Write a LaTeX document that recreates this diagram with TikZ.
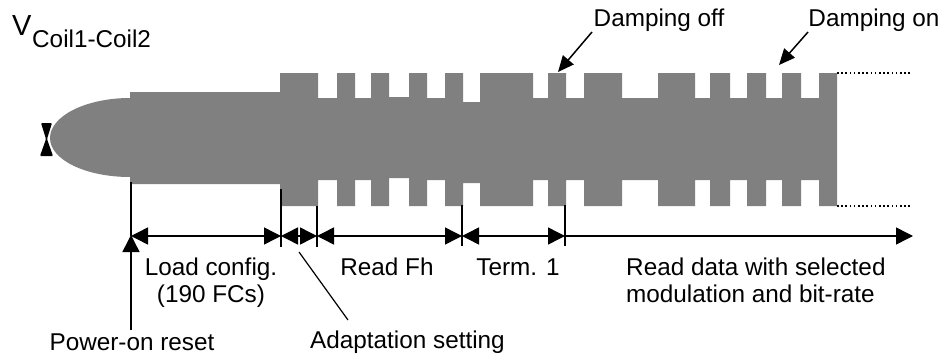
\documentclass[tikz,border=0pt]{standalone}
\usepackage{fontspec}
\setmainfont{Liberation Sans}
\usetikzlibrary{arrows.meta}
\definecolor{wave}{gray}{0.5}
\tikzset{
  x=1pt,y=-1pt,
  lab/.style={inner sep=0pt,font=\fontsize{24.3}{27}\selectfont,text=black},
  tick/.style={line width=1.5pt,black},
  dim/.style={line width=1.5pt,{Triangle[length=17pt,width=17pt]}-{Triangle[length=17pt,width=17pt]}},
  onearrow/.style={line width=1.5pt,-{Triangle[length=17pt,width=17pt]}},
  callout/.style={line width=1.5pt,-{Triangle[length=16pt,width=14pt]}},
  dotline/.style={line width=1.5pt,dash pattern=on 1.5pt off 2.7pt}
}
\begin{document}
\begin{tikzpicture}
\useasboundingbox (0,0) rectangle (948,356);
% bow tie
\fill[black,rounded corners=1pt] (41,123) -- (52,123) -- (47,139) -- (53,156) -- (40,156) -- (46,139) -- cycle;
% envelope
\fill[wave] (50,138) .. controls (50,116) and (86,98) .. (130,98) -- (130,92) -- (280,92) -- (280,73) -- (318,73) -- (318,98)
 -- (337,98) -- (337,73) -- (355,73) -- (355,98) -- (371,98) -- (371,73) -- (389,73) -- (389,97) -- (409,97) -- (409,73) -- (427,73)
 -- (427,98) -- (445,98) -- (445,73) -- (463,73) -- (463,102) -- (480,102) -- (480,73) -- (533,73) -- (533,98) -- (548,98) -- (548,73)
 -- (566,73) -- (566,98) -- (584,98) -- (584,73) -- (622,73) -- (622,98) -- (658,98) -- (658,73) -- (695,73) -- (695,98) -- (710,98)
 -- (710,73) -- (730,73) -- (730,98) -- (747,98) -- (747,73) -- (766,73) -- (766,98) -- (782,98) -- (782,73) -- (801,73) -- (801,98)
 -- (819,98) -- (819,73) -- (837,73) -- (837,206) -- (819,206) -- (819,180) -- (801,180) -- (801,206) -- (782,206) -- (782,180)
 -- (766,180) -- (766,206) -- (747,206) -- (747,180) -- (730,180) -- (730,206) -- (710,206) -- (710,180) -- (695,180) -- (695,206)
 -- (658,206) -- (658,180) -- (622,180) -- (622,206) -- (584,206) -- (584,180) -- (566,180) -- (566,206) -- (548,206) -- (548,180)
 -- (533,180) -- (533,206) -- (480,206) -- (480,183) -- (463,183) -- (463,206) -- (445,206) -- (445,180) -- (427,180) -- (427,206)
 -- (409,206) -- (409,178) -- (389,178) -- (389,206) -- (371,206) -- (371,180) -- (355,180) -- (355,206) -- (337,206) -- (337,180)
 -- (318,180) -- (318,206) -- (280,206) -- (280,184) -- (130,184) -- (130,177) .. controls (86,177) and (50,160) .. (50,138) -- cycle;
% dotted continuation
\coordinate (dt0) at (837,73); \coordinate (dt1) at (910,73);
\coordinate (db0) at (837,206); \coordinate (db1) at (912,206);
\draw[dotline] (dt0) -- (dt1);
\draw[dotline] (db0) -- (db1);
% ticks
\coordinate (t1a) at (131,182); \coordinate (t1b) at (131,236);
\coordinate (t2a) at (281,189); \coordinate (t2b) at (281,247);
\coordinate (t3a) at (317,206); \coordinate (t3b) at (317,247);
\coordinate (t4a) at (462,205); \coordinate (t4b) at (462,246);
\coordinate (t5a) at (565,205); \coordinate (t5b) at (565,246);
\draw[tick] (t1a) -- (t1b);
\draw[tick] (t2a) -- (t2b);
\draw[tick] (t3a) -- (t3b);
\draw[tick] (t4a) -- (t4b);
\draw[tick] (t5a) -- (t5b);
% dimension arrows
\coordinate (d1) at (131,236); \coordinate (d2) at (281,236); \coordinate (d3) at (317,236);
\coordinate (d4) at (462,236); \coordinate (d5) at (565,236); \coordinate (d6) at (913,236);
\draw[dim] (d1) -- (d2);
\draw[dim] (d2) -- (d3);
\draw[dim] (d3) -- (d4);
\draw[dim] (d4) -- (d5);
\draw[onearrow] (d5) -- (d6);
% labels
\node[lab,anchor=base west,font=\fontsize{29}{30}\selectfont] (vc) at (12,35) {V};
\node[lab,anchor=base west] (vs) at (32,47) {Coil1-Coil2};
\node[lab,anchor=base] (off) at (659,27) {Damping off};
\node[lab,anchor=base] (on) at (874,27) {Damping on};
\node[lab,anchor=base] (load1) at (211,275) {Load config.};
\node[lab,anchor=base] (load2) at (211,302) {(190 FCs)};
\node[lab,anchor=base] (fh) at (387,275) {Read Fh};
\node[lab,anchor=base] (term) at (518,275) {Term. 1};
\node[lab,anchor=base west] (read1) at (626,275) {Read data with selected};
\node[lab,anchor=base west] (read2) at (626,302) {modulation and bit-rate};
\node[lab,anchor=base] (por) at (132,350) {Power-on reset};
\node[lab,anchor=base west] (adapt) at (310,348) {Adaptation setting};
% callouts
\coordinate (offtip) at (558,72); \coordinate (offtail) at (592,32);
\coordinate (ontip) at (779,65); \coordinate (ontail) at (808,32);
\coordinate (portail) at (131,330); \coordinate (portip) at (131,235);
\coordinate (ad0) at (299,252); \coordinate (ad1) at (348,320);
\draw[callout] (offtail) -- (offtip);
\draw[callout] (ontail) -- (ontip);
\draw[onearrow] (portail) -- (portip);
\draw[line width=1.2pt] (ad0) -- (ad1);
\end{tikzpicture}
\end{document}
